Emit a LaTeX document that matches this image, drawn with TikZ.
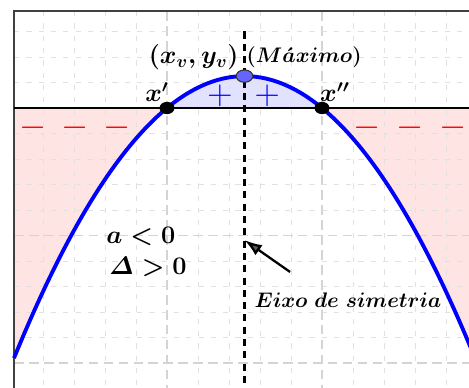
\documentclass[tikz,border=0pt]{standalone}
\usepackage{amsmath,amssymb}
\usepackage{graphicx}
\usepackage{xcolor}
\definecolor{curveblue}{RGB}{0,0,255}
\definecolor{posfill}{RGB}{226,226,255}
\definecolor{negfill}{RGB}{255,228,228}
\definecolor{gridgray}{RGB}{212,212,212}
\definecolor{vtxblue}{RGB}{100,100,255}
\usepackage{tikz}
\usetikzlibrary{shapes.geometric,arrows.meta,calc}

\begin{document}
\begin{tikzpicture}[
  x=0.62cm,y=0.51cm,
  minorgrid/.style={draw=gridgray!70,line width=0.5pt,dash pattern=on 3pt off 4pt},
  majorgrid/.style={draw=gridgray,line width=0.7pt,dash pattern=on 5.5pt off 3pt},
  curve/.style={draw=curveblue,line width=2.2pt},
  root/.style={ellipse,fill=black,inner sep=0pt,minimum width=8.5pt,minimum height=7pt},
  vtx/.style={ellipse,draw=black!80,fill=vtxblue,line width=0.6pt,inner sep=0pt,minimum width=9.5pt,minimum height=7pt},
  lbl/.style={font=\Large,inner sep=1pt},
  sgn/.style={font=\LARGE,inner sep=0pt}
]
  % picture area
  \useasboundingbox (-5.387,-10.98) rectangle (9.742,4.235);
  \clip (-5.387,-10.98) rectangle (9.742,4.235);

  % signs of f(x)
  \fill[negfill] (-4.935,0) -- plot[domain=-4.935:0,samples=60] (\x,{\x-0.2*\x*\x}) -- cycle;
  \fill[negfill] (5,0) -- plot[domain=5:9.9,samples=60] (\x,{\x-0.2*\x*\x}) -- (9.9,0) -- cycle;
  \fill[posfill] plot[domain=0:5,samples=60] (\x,{\x-0.2*\x*\x}) -- cycle;

  % grid
  \foreach \gx in {-4,-3,-2,-1,1,2,3,4,6,7,8,9}
    \draw[minorgrid] (\gx,3.8) -- (\gx,-11.5);
  \foreach \gx in {0,5}
    \draw[majorgrid] (\gx,3.8) -- (\gx,-11.5);
  \foreach \gy in {3,2,1,-1,-2,-3,-4,-6,-7,-8,-9}
    \draw[minorgrid] (-4.935,\gy) -- (10,\gy);
  \foreach \gy in {-5,-10}
    \draw[majorgrid] (-4.935,\gy) -- (10,\gy);

  % frame and x axis
  \draw[black!75,line width=0.8pt] (-4.935,-11.5) -- (-4.935,3.8) -- (10,3.8);
  \draw[line width=1.6pt] (-4.935,0) -- (10,0);

  % parabola
  \draw[curve] plot[domain=-4.935:9.9,samples=120] (\x,{\x-0.2*\x*\x});

  % axis of symmetry
  \coordinate (axtop) at (2.5,3);
  \coordinate (axbot) at (2.5,-11.5);
  \draw[line width=1.9pt,dash pattern=on 4pt off 3pt] (axtop) -- (axbot);

  % points
  \node[root] (xl) at (0,0) {};
  \node[root] (xr) at (5,0) {};
  \node[vtx] (vert) at (2.5,1.25) {};

  % labels
  \node[lbl,anchor=east,inner sep=0pt] (vlab) at (2.32,2.0) {$\boldsymbol{(x_v, y_v)}$};
  \node[lbl,font=\large,anchor=west,inner sep=0pt] (maxlab) at (2.56,2.0) {$\boldsymbol{(M\acute{a}ximo)}$};
  \node[lbl] (xlab1) at (-0.32,0.62) {$\boldsymbol{x'}$};
  \node[lbl] (xlab2) at (5.42,0.62) {$\boldsymbol{x''}$};
  \node[lbl] (acond) at (-0.84,-5.02) {$\boldsymbol{a<0}$};
  \node[lbl] (dcond) at (-0.61,-6.24) {$\boldsymbol{\varDelta>0}$};
  \node[lbl,font=\large] (eixo) at (5.84,-7.53) {$\boldsymbol{Eixo\ de\ simetria}$};

  % signs
  \node[sgn,text=curveblue] (p1) at (1.71,0.47) {\scalebox{1.15}{$+$}};
  \node[sgn,text=curveblue] (p2) at (3.23,0.47) {\scalebox{1.15}{$+$}};
  \foreach \mx [count=\i] in {-4.32,-2.97,-1.61,6.45,7.84,9.23}
    \node[sgn,text=red] (m\i) at (\mx,-0.78) {\scalebox{1.15}{$-$}};

  % arrow to the axis
  \coordinate (tail) at (3.97,-6.43);
  \coordinate (tip) at (2.5,-5.18);
  \draw[-{Latex[length=10pt,width=7pt,fill=black!65]},line width=1.3pt] (tail) -- (tip);
\end{tikzpicture}
\end{document}
